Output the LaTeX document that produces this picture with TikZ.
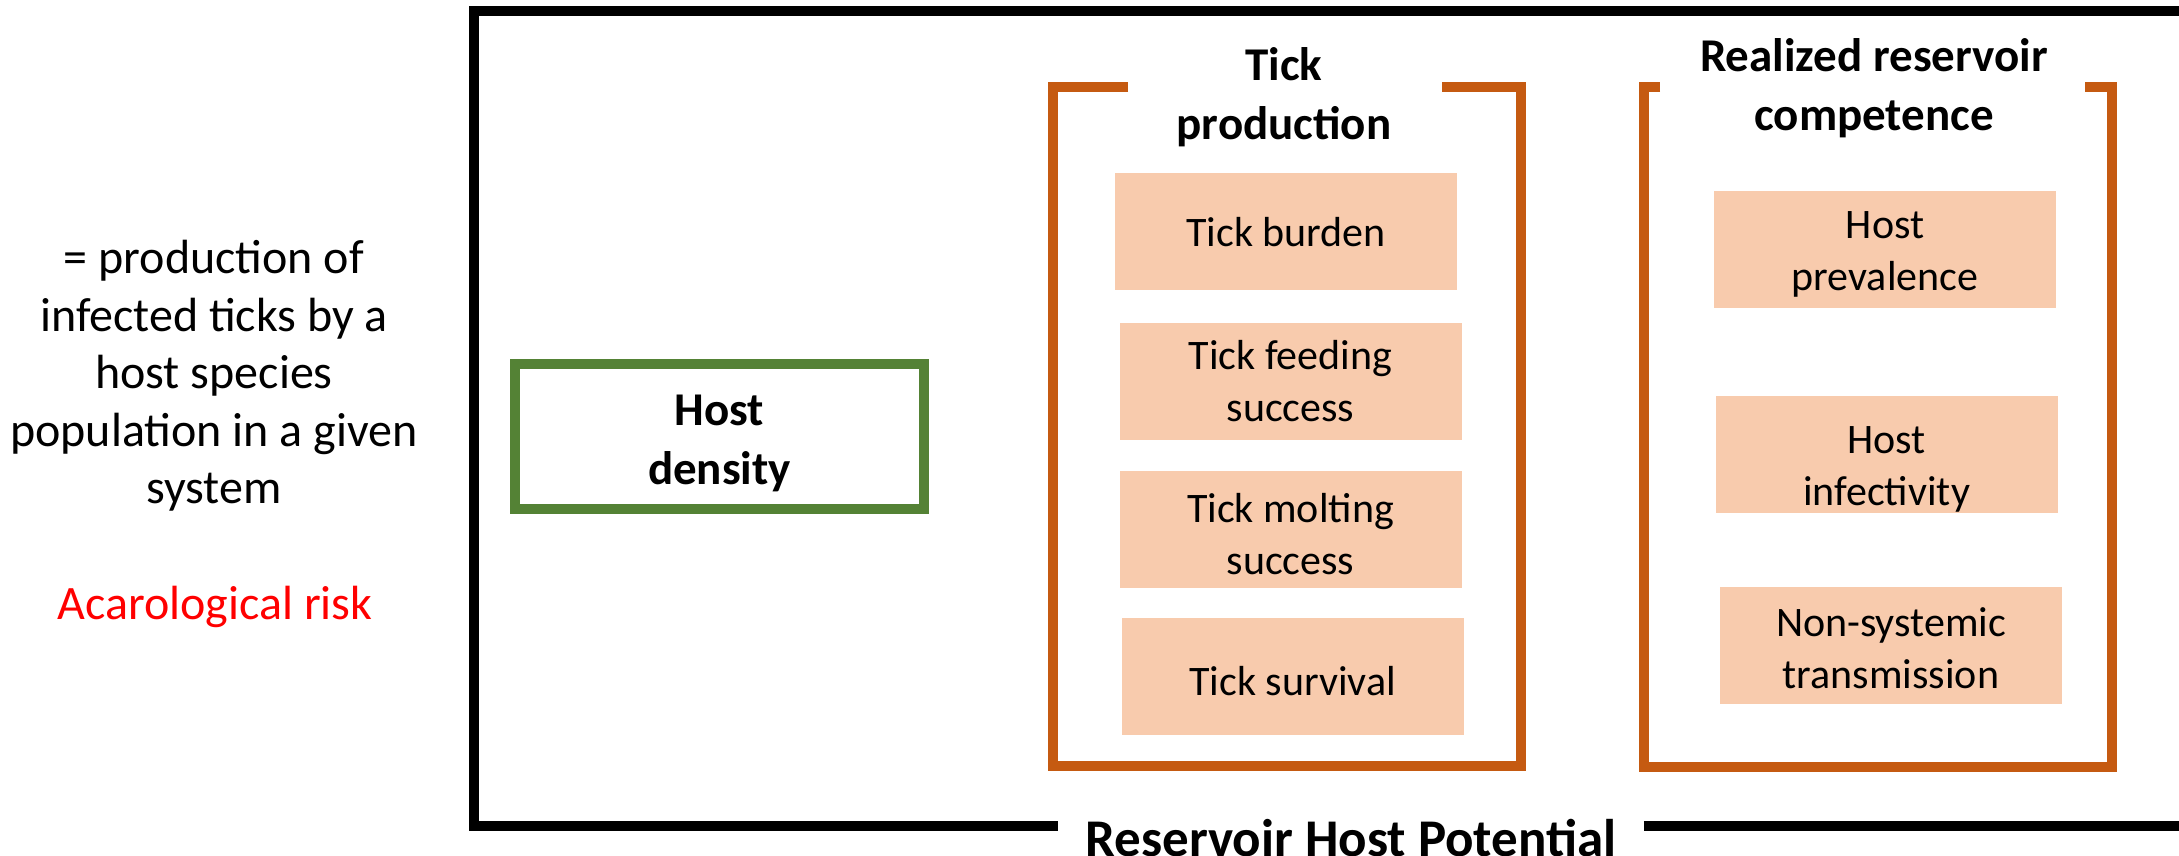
\documentclass[tikz,border=0pt]{standalone}
\usepackage{fontspec}
\setmainfont{Carlito}
\usetikzlibrary{positioning,calc}
\definecolor{rhpOrange}{HTML}{C55A11}
\definecolor{rhpPeach}{HTML}{F8CBAD}
\definecolor{rhpGreen}{HTML}{548235}
\tikzset{%
  every factor/.style={fill=rhpPeach,inner sep=0,minimum width=171pt,minimum height=58.5pt},
  factor text/.style={align=center,inner sep=0,font=\fontsize{21}{26}\selectfont},
  bracket/.style={draw=rhpOrange,line width=5pt,line join=miter},
}

\begin{document}
\begin{tikzpicture}[
            x=0.5pt,y=-0.5pt,
            frame/.style={
              draw=black,
              line width=5pt,
              },
            title/.style={align=center,font=\bfseries\fontsize{23.5}{29.5}\selectfont
              },
            plaintext/.style={align=center,font=\fontsize{24}{28.75}\selectfont
              },
            density/.style={
              draw=rhpGreen,
              line width=5pt,
              minimum width=204.5pt,
              minimum height=72.5pt
              }
            ]
            \useasboundingbox (0,0) rectangle (2179,856);

            % definition on the left
            \node[plaintext] (defn) at (214,376) {= production of\\infected ticks by a\\host species\\population in a given\\system};
            \node[plaintext,text=red] (acaro) at (215,607) {Acarological risk};

            % outer frame with its name on the bottom edge
            \node[font=\bfseries\fontsize{26.5}{30}\selectfont,inner xsep=13.5pt] (rhp) at (1351,838) {Reservoir Host Potential};
            \coordinate (fbl) at (474,826);
            \draw[frame] (2190,11) -- (474,11) -- (fbl) -- (fbl -| rhp.west);
            \draw[frame] (fbl -| rhp.east) -- (2190,826);

            \node[density] (hostd) at (719.5,436.5) {};
            \node[title] (hostd-text) at ($(hostd)+(0,7)$) {Host\\density};

            % tick production
            \node[title] (tickp) at (1284,97) {Tick\\production};
            \draw[bracket] (1128,87) -- (1053,87) -- (1053,766) -- (1521,766) -- (1521,87) -- (1442,87);
            \foreach \bi/\bx/\by/\dy/\bt in {burden/1286/231.5/1/{Tick burden},
                                             feeding/1290.5/381.5/0/{Tick feeding\\success},
                                             molting/1290.5/529.5/5/{Tick molting\\success},
                                             survival/1292.5/676.5/5/{Tick survival}}
            {
              \node[every factor] (tick-\bi) at (\bx,\by) {};
              \node[factor text] (tick-\bi-text) at ($(tick-\bi)+(0,\dy)$) {\bt};
            }

            % realized reservoir competence
            \node[title] (rrc) at (1874,88) {Realized reservoir\\competence};
            \draw[bracket] (1660,87) -- (1644,87) -- (1644,767) -- (2112,767) -- (2112,87) -- (2085,87);
            \foreach \bi/\bx/\by/\dy/\bt in {prevalence/1885/249/5/{Host\\prevalence},
                                             infectivity/1886.5/454/15/{Host\\infectivity},
                                             nonsys/1891/645/3/{Non-systemic\\transmission}}
            {
              \node[every factor] (host-\bi) at (\bx,\by) {};
              \node[factor text] (host-\bi-text) at ($(host-\bi)+(0,\dy)$) {\bt};
            }
\end{tikzpicture}
\end{document}
